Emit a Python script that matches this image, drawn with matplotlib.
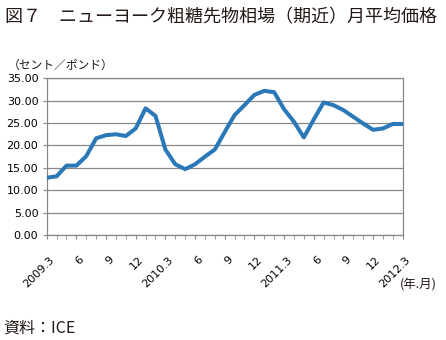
import matplotlib
matplotlib.use("Agg")
import matplotlib.pyplot as plt
import matplotlib.transforms as mtransforms
import numpy as np

plt.rcParams['font.family'] = ['Noto Sans CJK JP', 'DejaVu Sans']

# Monthly data 2009.3 - 2012.3 (cents/pound)
months = ["2009.3", "4", "5", "6", "7", "8", "9", "10", "11", "12",
          "2010.1", "2", "2010.3", "4", "5", "6", "7", "8", "9", "10", "11", "12",
          "2011.1", "2", "2011.3", "4", "5", "6", "7", "8", "9", "10", "11", "12",
          "2012.1", "2", "2012.3"]
values = [12.8, 13.1, 15.5, 15.5, 17.6, 21.6, 22.3, 22.5, 22.1, 23.8,
          28.3, 26.6, 19.1, 15.8, 14.7, 15.8, 17.5, 19.1, 23.0, 26.8,
          29.0, 31.3, 32.2, 31.9, 28.1, 25.3, 21.8, 25.8, 29.6, 29.0,
          27.9, 26.4, 24.9, 23.5, 23.8, 24.8, 24.8]
tick_labels = ["2009.3", "6", "9", "12", "2010.3", "6", "9", "12",
               "2011.3", "6", "9", "12", "2012.3"]
yticks = [0, 5, 10, 15, 20, 25, 30, 35]

fig = plt.figure(figsize=(4.46, 3.40), dpi=100)
ax = fig.add_axes([0.1047, 0.3088, 0.7983, 0.4609])

x = np.arange(len(values))
ax.plot(x, values, color='#2a78b8', linewidth=2.9, solid_joinstyle='round',
        solid_capstyle='round', zorder=3)

ax.set_xlim(0, len(values) - 1)
ax.set_ylim(0, 35)
ax.set_yticks(yticks)
ax.set_yticklabels([f"{v:.2f}" for v in yticks], fontsize=8, family='DejaVu Sans')
ax.yaxis.grid(True, color='#888888', linewidth=0.9)
ax.set_axisbelow(True)

ax.set_xticks(x, minor=True)
ax.set_xticks(x[::3])
ax.set_xticklabels([])
ax.tick_params(axis='x', which='both', direction='out', length=3, color='#888888', pad=4)
ax.tick_params(axis='y', direction='out', length=3, color='#888888', pad=3)

# rotated category labels, offset below the axis
base = mtransforms.blended_transform_factory(ax.transData, ax.transAxes)
offset = mtransforms.ScaledTranslation(6 / 100, -23 / 100, fig.dpi_scale_trans)
for pos, lab in zip(x[::3], tick_labels):
    ax.text(pos, 0, lab, transform=base + offset, rotation=45, rotation_mode='anchor',
            ha='right', va='center', fontsize=8, family='DejaVu Sans', clip_on=False)

for s in ax.spines.values():
    s.set_color('#888888')
    s.set_linewidth(0.9)

fig.text(0.012, 0.948, "図７　ニューヨーク粗糖先物相場（期近）月平均価格", fontsize=13,
         ha='left', va='center', color='#231815')
fig.text(0.018, 0.809, "（セント／ポンド）", fontsize=8.5, ha='left', va='center', color='#231815')
fig.text(0.897, 0.162, "(年.月)", fontsize=9, ha='left', va='center', color='#231815')
fig.text(0.008, 0.035, "資料：ICE", fontsize=11.5, ha='left', va='center', color='#231815')

fig.savefig("out.png", dpi=100)
